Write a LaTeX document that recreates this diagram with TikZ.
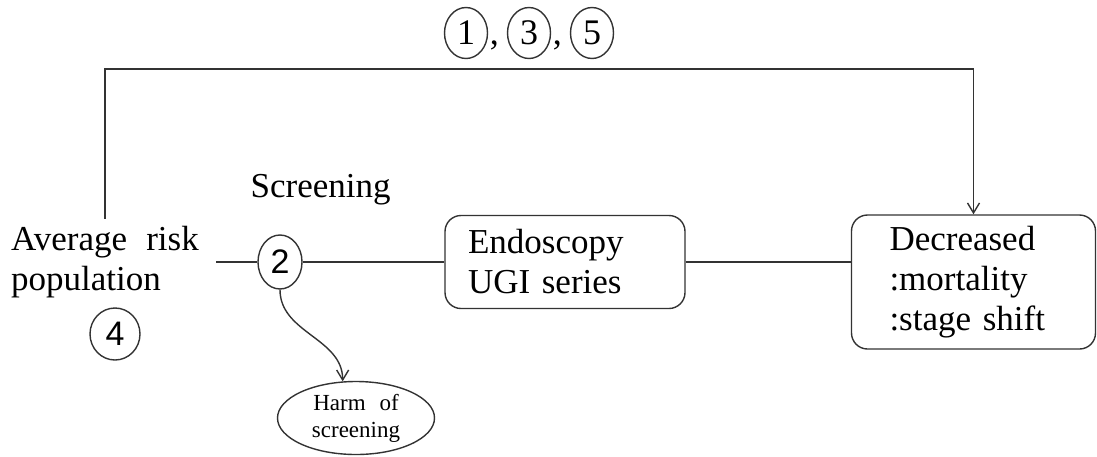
\documentclass[tikz,border=0pt]{standalone}
\usepackage{fontspec}
\setmainfont{Liberation Serif}
\setsansfont{Liberation Sans}
\usetikzlibrary{shapes.geometric,arrows.meta}
\newcommand\widegap[1]{\spaceskip=#1em plus 0.1em\relax}
\begin{document}
\begin{tikzpicture}[x=0.5pt,y=-0.5pt,line width=0.7pt,
    num/.style={draw=black!80, ellipse, inner sep=0pt, minimum width=22pt, minimum height=27pt, font=\sffamily\fontsize{17}{17}\selectfont},
    topnum/.style={num, minimum width=21.5pt, minimum height=25.5pt, font=\rmfamily\fontsize{18}{18}\selectfont},
    lbl/.style={align=left, font={\fontsize{17.5}{20}\selectfont\widegap{0.55}}},
    box/.style={lbl, draw=black!80, rounded corners=8pt},
    conn/.style={draw=black!80},
    tip/.style={conn, -{Straight Barb[length=5pt,width=6pt]}}]

    \useasboundingbox (0,0) rectangle (1097,456);

    % numbers above the long arrow
    \node[topnum] (n1) at (466,33) {1};
    \node[topnum] (n3) at (529,33) {3};
    \node[topnum] (n5) at (592,33) {5};
    \node[anchor=base west, inner sep=0.5pt, font=\fontsize{18}{18}\selectfont] (c13) at (n1.base east) {,};
    \node[anchor=base west, inner sep=0.5pt, font=\fontsize{18}{18}\selectfont] (c35) at (n3.base east) {,};

    \node[lbl] (avg) at (105,262) {Average risk\\population};
    \node[num, minimum width=25pt, minimum height=26pt] (n4) at (115,334) {4};
    \node[lbl, anchor=base west, inner sep=0pt] (scr) at (250,197) {Screening};
    \node[num] (n2) at (280,262) {2};
    \node[box, text width=97pt, inner xsep=11.5pt, minimum height=46.5pt] (endo) at (565,262) {Endoscopy\\UGI series};
    \node[box, text width=84pt, inner xsep=19pt, minimum height=67pt] (dec) at (973.5,282) {Decreased\\:mortality\\:stage shift};
    \node[draw=black!80, ellipse, minimum width=78.5pt, minimum height=36.5pt, inner sep=0pt, align=center,
          font={\fontsize{11.5}{13.5}\selectfont\widegap{0.6}}] (harm) at (356,418) {Harm of\\screening};

    \coordinate (topline) at (0,69);
    \draw[tip] (avg.north) |- (topline -| dec.north) -- (dec.north);
    \draw[conn, shorten <=5pt] (avg.east) -- (n2.west);
    \draw[conn] (n2.east) -- (endo.west);
    \draw[conn] (endo.east) -- (dec.west |- endo.east);
    \draw[tip] (n2.south) to[out=-90,in=90] (harm.110);
\end{tikzpicture}
\end{document}
